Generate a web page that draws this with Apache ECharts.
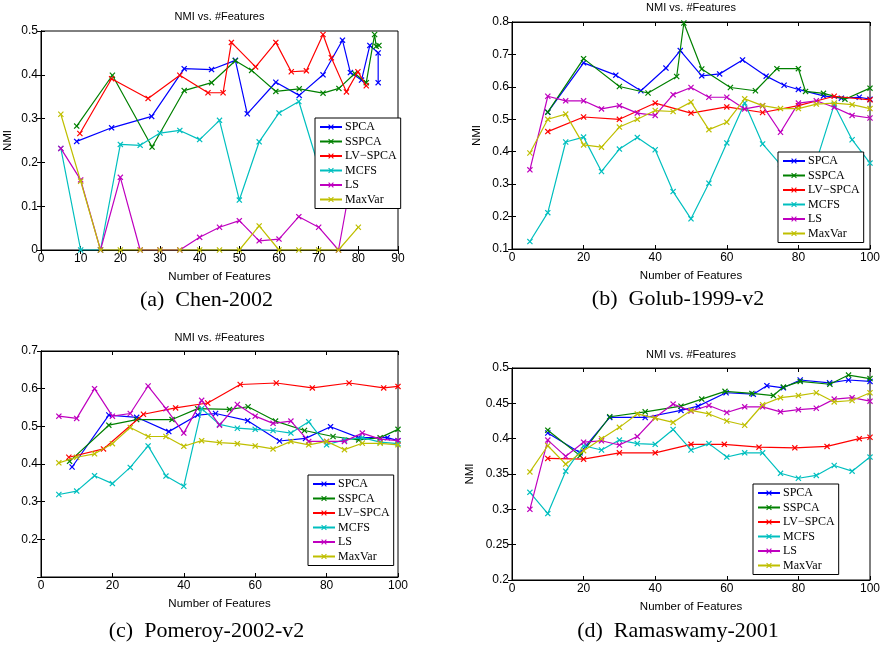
<!DOCTYPE html>
<html><head><meta charset="utf-8">
<script src="https://cdn.jsdelivr.net/npm/echarts@6/dist/echarts.min.js"></script>
<style>html,body{margin:0;padding:0;background:#fff}#c{width:886px;height:648px}</style>
</head><body><div id="c"></div>
<script>
const seriesNames = ['SPCA', 'SSPCA', 'LV\u2212SPCA', 'MCFS', 'LS', 'MaxVar'];
const captions = ['(a)  Chen-2002', '(b)  Golub-1999-v2', '(c)  Pomeroy-2002-v2', '(d)  Ramaswamy-2001'];
const chartTitle = 'NMI vs. #Features';
const xName = 'Number of Features';
const yName = 'NMI';

// (a) Chen-2002
const chenSPCA = [[9,0.248],[17.8,0.279],[27.9,0.305],[36.1,0.414],[43,0.412],[49,0.433],[52,0.311],[59.2,0.383],[65.1,0.353],[71.1,0.4],[76,0.479],[78,0.405],[80.8,0.388],[82.9,0.467],[85,0.45],[85,0.382]];
const chenSSPCA = [[9,0.283],[18,0.399],[28,0.235],[36.1,0.364],[43,0.382],[49,0.432],[53.1,0.41],[59.2,0.362],[65.1,0.368],[71.1,0.358],[75.1,0.369],[79.1,0.403],[82,0.382],[84.1,0.492],[84.5,0.465],[85.2,0.467]];
const chenLVSPCA = [[9.8,0.266],[17.8,0.391],[27,0.346],[35,0.399],[42.1,0.359],[45.9,0.359],[48,0.474],[54.1,0.418],[59.2,0.474],[63.1,0.407],[66.9,0.409],[71.1,0.492],[73.2,0.439],[77,0.361],[79.9,0.407],[82,0.375]];
const chenMCFS = [[5,0.232],[10,0],[15,0],[20,0.241],[25,0.239],[30,0.267],[35,0.273],[40,0.252],[45,0.296],[50,0.114],[55,0.247],[60,0.313],[65,0.339],[70,0.19],[75,0.2],[80,0.2]];
const chenLS = [[5,0.232],[10,0.16],[15,0],[20,0.166],[25,0],[30,0],[35,0],[40,0.029],[45,0.052],[50,0.067],[55,0.021],[60,0.025],[65,0.076],[70,0.052],[75,0],[80,0.25]];
const chenMaxVar = [[5,0.31],[10,0.157],[15,0],[20,0],[25,0],[30,0],[35,0],[40,0],[45,0],[50,0],[55,0.055],[60,0],[65,0],[70,0],[75,0],[80,0.052]];

// (b) Golub-1999-v2
const golubSPCA = [[10,0.522],[20,0.674],[29,0.636],[36,0.588],[43,0.658],[47,0.712],[53,0.634],[58,0.64],[64.4,0.683],[71,0.633],[76,0.605],[80,0.592],[87,0.572],[92,0.565],[97,0.568],[100,0.562]];
const golubSSPCA = [[10,0.522],[20,0.687],[30,0.601],[38,0.581],[46,0.632],[48,0.797],[53,0.655],[61,0.598],[68,0.588],[74,0.656],[80,0.656],[82,0.586],[87,0.58],[93,0.562],[100,0.596]];
const golubLVSPCA = [[10,0.462],[20,0.507],[30,0.5],[40,0.55],[50,0.519],[60,0.538],[70,0.521],[80,0.542],[90,0.571],[100,0.56]];
const golubMCFS = [[5,0.123],[10,0.212],[15,0.43],[20,0.445],[25,0.339],[30,0.408],[35,0.444],[40,0.406],[45,0.277],[50,0.193],[55,0.303],[60,0.427],[65,0.55],[70,0.424],[75,0.36],[80,0.3],[85,0.37],[90,0.545],[95,0.437],[100,0.365]];
const golubLS = [[5,0.344],[10,0.571],[15,0.557],[20,0.557],[25,0.532],[30,0.542],[35,0.519],[40,0.512],[45,0.576],[50,0.598],[55,0.568],[60,0.568],[65,0.532],[70,0.542],[75,0.46],[80,0.55],[85,0.557],[90,0.537],[95,0.512],[100,0.504]];
const golubMaxVar = [[5,0.396],[10,0.5],[15,0.516],[20,0.421],[25,0.414],[30,0.476],[35,0.5],[40,0.527],[45,0.524],[50,0.553],[55,0.468],[60,0.491],[65,0.563],[70,0.542],[75,0.533],[80,0.533],[85,0.547],[90,0.55],[95,0.545],[100,0.533]];

// (c) Pomeroy-2002-v2
const pomeroySPCA = [[8.7,0.392],[19,0.53],[26.8,0.524],[35.8,0.486],[43.9,0.53],[48.9,0.534],[57.9,0.515],[66.8,0.461],[74.1,0.468],[81.1,0.499],[89,0.47],[97,0.47],[100,0.462]];
const pomeroySSPCA = [[8,0.407],[19,0.503],[26.8,0.518],[36.7,0.518],[43.9,0.547],[52.8,0.545],[58,0.552],[65.7,0.514],[73.8,0.489],[81.8,0.473],[89,0.464],[95,0.47],[100,0.492]];
const pomeroyLVSPCA = [[7.8,0.418],[17.5,0.44],[28.7,0.532],[37.7,0.549],[46.7,0.562],[55.8,0.611],[65.9,0.615],[76,0.602],[86.3,0.615],[96,0.602],[100,0.606]];
const pomeroyMCFS = [[5,0.319],[10,0.328],[15,0.369],[20,0.348],[25,0.391],[30,0.448],[35,0.368],[40,0.341],[45,0.547],[50,0.505],[55,0.495],[60,0.492],[65,0.489],[70,0.482],[75,0.512],[80,0.451],[85,0.464],[90,0.47],[95,0.458],[100,0.454]];
const pomeroyLS = [[5,0.527],[10,0.521],[15,0.6],[20,0.527],[25,0.534],[30,0.607],[35,0.547],[40,0.482],[45,0.569],[50,0.503],[55,0.558],[60,0.527],[65,0.508],[70,0.514],[75,0.46],[80,0.46],[85,0.46],[90,0.482],[95,0.466],[100,0.462]];
const pomeroyMaxVar = [[5,0.403],[10,0.418],[15,0.427],[20,0.454],[25,0.497],[30,0.473],[35,0.473],[40,0.447],[45,0.462],[50,0.457],[55,0.454],[60,0.448],[65,0.44],[70,0.46],[75,0.451],[80,0.46],[85,0.438],[90,0.455],[95,0.455],[100,0.451]];

// (d) Ramaswamy-2001
const ramaSPCA = [[10,0.408],[19,0.38],[27.3,0.43],[37.2,0.43],[47.2,0.44],[52,0.446],[59.8,0.465],[67.4,0.463],[71.2,0.475],[75.8,0.472],[80.5,0.483],[88.7,0.479],[94,0.483],[100,0.481]];
const ramaSSPCA = [[10,0.412],[19,0.376],[27.3,0.431],[37.2,0.438],[47.2,0.446],[53,0.456],[59.5,0.467],[67,0.464],[73,0.461],[75.8,0.473],[80.5,0.481],[88.8,0.477],[94,0.49],[100,0.485]];
const ramaLVSPCA = [[10,0.372],[20,0.371],[30,0.38],[40,0.38],[50,0.392],[59.3,0.392],[69,0.388],[79,0.387],[88,0.389],[97,0.4],[100,0.402]];
const ramaMCFS = [[5,0.324],[10,0.294],[15,0.354],[20,0.39],[25,0.384],[30,0.398],[35,0.393],[40,0.392],[45,0.413],[50,0.384],[55,0.393],[60,0.374],[65,0.38],[70,0.38],[75,0.351],[80,0.344],[85,0.348],[90,0.362],[95,0.354],[100,0.374]];
const ramaLS = [[5,0.3],[10,0.398],[15,0.375],[20,0.395],[25,0.397],[30,0.391],[35,0.403],[40,0.43],[45,0.449],[50,0.439],[55,0.447],[60,0.437],[65,0.445],[70,0.445],[75,0.438],[80,0.441],[85,0.443],[90,0.456],[95,0.458],[100,0.453]];
const ramaMaxVar = [[5,0.353],[10,0.39],[15,0.364],[20,0.383],[25,0.4],[30,0.416],[35,0.435],[40,0.429],[45,0.423],[50,0.44],[55,0.435],[60,0.425],[65,0.419],[70,0.448],[75,0.458],[80,0.461],[85,0.465],[90,0.452],[95,0.454],[100,0.465]];

// axis ranges per panel
const xMin = [0, 0, 0, 0];
const xMax = [90, 100, 100, 100];
const xStep = [10, 20, 20, 20];
const yMin = [0, 0.1, 0.1, 0.2];
const yMax = [0.5, 0.8, 0.7, 0.5];
const yStep = [0.1, 0.1, 0.1, 0.05];

const panelData = [
  [chenSPCA, chenSSPCA, chenLVSPCA, chenMCFS, chenLS, chenMaxVar],
  [golubSPCA, golubSSPCA, golubLVSPCA, golubMCFS, golubLS, golubMaxVar],
  [pomeroySPCA, pomeroySSPCA, pomeroyLVSPCA, pomeroyMCFS, pomeroyLS, pomeroyMaxVar],
  [ramaSPCA, ramaSSPCA, ramaLVSPCA, ramaMCFS, ramaLS, ramaMaxVar]
];

// ---------- layout / style ----------
const colors = ['#0000ff', '#008000', '#ff0000', '#00bfbf', '#bf00bf', '#bfbf00'];
const grids = [
  {left: 41, top: 31, width: 357, height: 219},
  {left: 512, top: 22, width: 358, height: 227},
  {left: 41, top: 351, width: 357, height: 226},
  {left: 512, top: 368, width: 358, height: 212}
];
const legendPos = [[315, 118], [778, 152], [308, 475], [753, 484]];
const yNameGap = [27, 29, null, 36];
const titleY = [17, 8, 338, 355];
const captionY = [300, 299, 631, 631];
const SANS = '"Liberation Sans", Arial, sans-serif';
const SERIF = '"Liberation Serif", "Times New Roman", serif';
const XSYM = 'path://M0,1.4L1.4,0L5,3.6L8.6,0L10,1.4L6.4,5L10,8.6L8.6,10L5,6.4L1.4,10L0,8.6L3.6,5Z';

const fmt = v => String(+v.toFixed(2));

const option = {
  animation: false,
  backgroundColor: '#fff',
  grid: [], xAxis: [], yAxis: [], series: [], legend: [], graphic: []
};

grids.forEach((g, i) => {
  option.grid.push(Object.assign({show: true, borderColor: '#000', borderWidth: 1, backgroundColor: '#fff', containLabel: false}, g));
  const tick = {show: true, inside: true, length: 4, lineStyle: {color: '#000', width: 1}};
  const axLine = {show: true, lineStyle: {color: '#000', width: 1}};
  option.xAxis.push({
    type: 'value', gridIndex: i, min: xMin[i], max: xMax[i], interval: xStep[i], position: 'bottom',
    axisLine: axLine, axisTick: tick, splitLine: {show: false},
    axisLabel: {color: '#000', fontFamily: SANS, fontSize: 12, margin: 3, formatter: fmt},
    name: xName, nameLocation: 'middle', nameGap: 21,
    nameTextStyle: {color: '#000', fontFamily: SANS, fontSize: 11.5}
  });
  option.xAxis.push({
    type: 'value', gridIndex: i, min: xMin[i], max: xMax[i], interval: xStep[i], position: 'top',
    axisLine: axLine, axisTick: tick, splitLine: {show: false}, axisLabel: {show: false}
  });
  const yl = {
    type: 'value', gridIndex: i, min: yMin[i], max: yMax[i], interval: yStep[i], position: 'left',
    axisLine: axLine, axisTick: tick, splitLine: {show: false},
    axisLabel: {color: '#000', fontFamily: SANS, fontSize: 12, margin: 3, formatter: fmt, showMinLabel: i !== 2}
  };
  if (yNameGap[i] !== null) {
    Object.assign(yl, {name: yName, nameLocation: 'middle', nameGap: yNameGap[i],
      nameTextStyle: {color: '#000', fontFamily: SANS, fontSize: 11.5}});
  }
  option.yAxis.push(yl);
  option.yAxis.push({
    type: 'value', gridIndex: i, min: yMin[i], max: yMax[i], interval: yStep[i], position: 'right',
    axisLine: axLine, axisTick: tick, splitLine: {show: false}, axisLabel: {show: false}
  });
  panelData[i].forEach((d, k) => {
    option.series.push({
      type: 'line', name: seriesNames[k], xAxisIndex: 2 * i, yAxisIndex: 2 * i,
      data: d, symbol: XSYM, symbolSize: 6, showSymbol: true,
      lineStyle: {color: colors[k], width: 1.2},
      itemStyle: {color: colors[k]},
      emphasis: {disabled: true}, z: 2 + k
    });
  });
  option.legend.push({
    orient: 'vertical', left: legendPos[i][0], top: legendPos[i][1],
    data: seriesNames, backgroundColor: '#fff', borderColor: '#000', borderWidth: 1,
    padding: [3, 4, 3, 4], itemGap: 2.5, itemWidth: 22, itemHeight: 7,
    textStyle: {color: '#000', fontFamily: SERIF, fontSize: 12, lineHeight: 12, padding: [0, 0, 0, -2]},
    selectedMode: false, z: 10
  });
  const cx = g.left + g.width / 2;
  option.graphic.push({
    type: 'text', x: cx, y: titleY[i], z: 20,
    style: {text: chartTitle, fill: '#000', font: '11px ' + SANS, textAlign: 'center', textVerticalAlign: 'middle'}
  });
  option.graphic.push({
    type: 'text', x: cx - 13, y: captionY[i], z: 20,
    style: {text: captions[i], fill: '#000', font: '22px ' + SERIF, textAlign: 'center', textVerticalAlign: 'middle'}
  });
});

const chart = echarts.init(document.getElementById('c'), null, {renderer: 'canvas'});
chart.setOption(option);
</script>
</body></html>
